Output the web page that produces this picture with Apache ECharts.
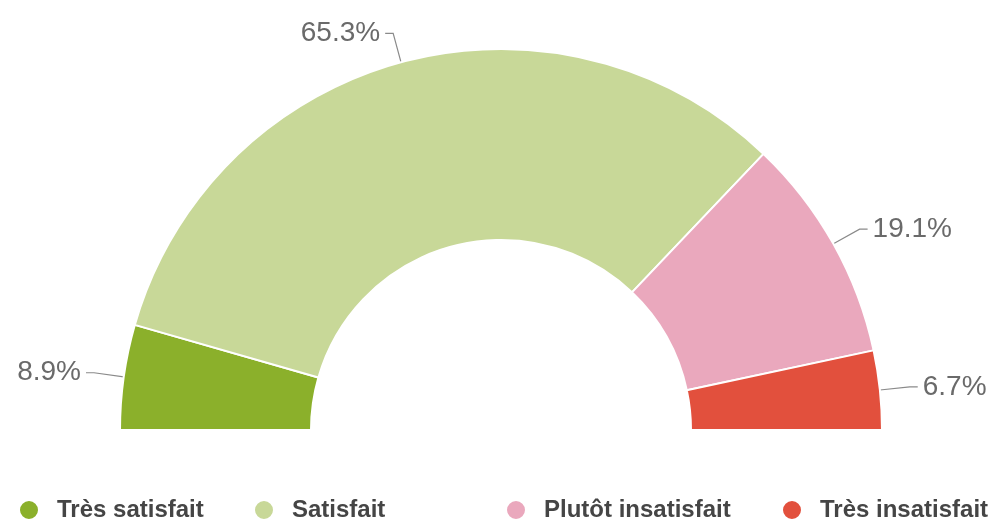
<!DOCTYPE html>
<html>
<head>
<meta charset="utf-8">
<script src="https://cdn.jsdelivr.net/npm/echarts@6/dist/echarts.min.js"></script>
<style>
html,body{margin:0;padding:0;background:#fff;}
#chart{width:991px;height:520px;}
</style>
</head>
<body>
<div id="chart"></div>
<script>
const categories = ['Très satisfait', 'Satisfait', 'Plutôt insatisfait', 'Très insatisfait'];
const values = [8.9, 65.3, 19.1, 6.7];
const colors = ['#8bb02b', '#c8d898', '#eaa8bd', '#e2503d'];

const legendLeft = [13, 248, 500, 776];

const chart = echarts.init(document.getElementById('chart'));
const legends = categories.map(function (name, i) {
  return {
    data: [name],
    left: legendLeft[i],
    top: 493,
    icon: 'circle',
    itemWidth: 46,
    itemHeight: 20,
    selectedMode: false,
    textStyle: {
      fontFamily: 'Liberation Sans, Arial, sans-serif',
      fontSize: 24,
      fontWeight: 'bold',
      color: '#454545'
    }
  };
});

chart.setOption({
  animation: false,
  color: colors,
  legend: legends,
  series: [{
    type: 'pie',
    center: [501, 430],
    radius: [190, 381],
    startAngle: 180,
    endAngle: 0,
    clockwise: true,
    avoidLabelOverlap: false,
    itemStyle: { borderColor: '#ffffff', borderWidth: 2 },
    label: {
      show: true,
      formatter: function (p) { return p.value.toFixed(1) + '%'; },
      fontFamily: 'Liberation Sans, Arial, sans-serif',
      fontSize: 28,
      color: '#6a6a6a',
      padding: [0, 0, 6, 0]
    },
    labelLine: {
      show: true,
      length: 30,
      length2: 8,
      lineStyle: { color: '#8a8a8a', width: 1.2 }
    },
    emphasis: { scale: false },
    data: categories.map(function (name, i) {
      return { name: name, value: values[i] };
    })
  }]
});
</script>
</body>
</html>
